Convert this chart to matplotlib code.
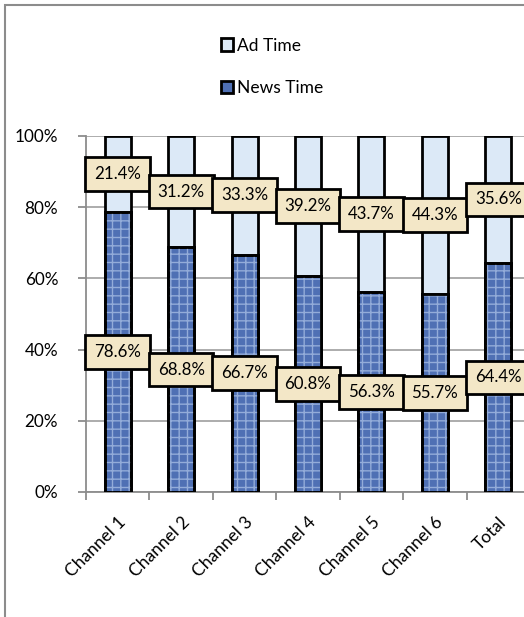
import matplotlib.pyplot as plt
from matplotlib.patches import Rectangle
from matplotlib.ticker import FuncFormatter

categories = ['Channel 1', 'Channel 2', 'Channel 3', 'Channel 4', 'Channel 5', 'Channel 6', 'Total']
news_time = [78.6, 68.8, 66.7, 60.8, 56.3, 55.7, 64.4]
ad_time = [21.4, 31.2, 33.3, 39.2, 43.7, 44.3, 35.6]

plt.rcParams['font.family'] = ['Lato', 'DejaVu Sans']
plt.rcParams['hatch.linewidth'] = 1.0

fig = plt.figure(figsize=(5.24, 6.17), dpi=100)
ax = fig.add_axes([86 / 524, 1 - 492 / 617, 444 / 524, 356 / 617])

# chart area border (only top and left visible)
fig.patches.append(Rectangle((5 / 524, -0.1), 1.2, 0.1 + 1 - 5 / 617, transform=fig.transFigure,
                             fill=False, edgecolor='#8c8c8c', linewidth=1.5))

x = range(len(categories))
w = 0.41
b_news = ax.bar(x, news_time, width=w, color='#4f70b4', edgecolor='black', linewidth=2,
                label='News Time', zorder=3)
# texture on the news bars
ax.bar(x, news_time, width=w, facecolor='none', edgecolor='#93acd9', linewidth=0,
       hatch='++', zorder=3.1)
ax.bar(x, news_time, width=w, facecolor='none', edgecolor='black', linewidth=2, zorder=3.2)
b_ad = ax.bar(x, ad_time, width=w, bottom=news_time, color='#dce9f7', edgecolor='black',
              linewidth=2, label='Ad Time', zorder=3)

box = dict(boxstyle='square,pad=0.52', facecolor='#f3e7c7', edgecolor='black', linewidth=2)
for i in x:
    ax.text(i, news_time[i] / 2, f'{news_time[i]:.1f}%', ha='center', va='center',
            fontsize=12.2, bbox=box, zorder=5)
    ax.text(i, news_time[i] + ad_time[i] / 2, f'{ad_time[i]:.1f}%', ha='center', va='center',
            fontsize=12.2, bbox=box, zorder=5)

ax.set_xlim(-0.5, len(categories) - 0.5)
ax.set_ylim(0, 100)
ax.set_yticks([0, 20, 40, 60, 80, 100])
ax.yaxis.set_major_formatter(FuncFormatter(lambda v, p: f'{v:.0f}%'))
ax.yaxis.grid(True, color='#a6a6a6', linewidth=1.3, zorder=0)
ax.set_axisbelow(True)

ax.set_xticks([i - 0.5 for i in range(len(categories) + 1)], minor=False)
ax.set_xticklabels([])
ax.set_xticks(list(x), minor=True)
ax.set_xticklabels(categories, minor=True, rotation=45, ha='right', rotation_mode='anchor',
                   fontsize=12.5)
ax.tick_params(axis='x', which='minor', length=0, pad=16)
ax.tick_params(axis='x', which='major', length=6, width=1.3, color='#8c8c8c')
ax.tick_params(axis='y', length=6, width=1.3, color='#8c8c8c', labelsize=12.3, pad=14)

for s in ['top', 'right']:
    ax.spines[s].set_visible(False)
for s in ['left', 'bottom']:
    ax.spines[s].set_color('#8c8c8c')
    ax.spines[s].set_linewidth(1.3)

handles = [b_ad, b_news]
fig.legend(handles, ['Ad Time', 'News Time'], loc='center', bbox_to_anchor=(272 / 524, 1 - 67 / 617),
           frameon=False, fontsize=12.5, labelspacing=1.55, handlelength=0.7, handleheight=0.7,
           handletextpad=0.2)

fig.savefig('out.png', dpi=100)
